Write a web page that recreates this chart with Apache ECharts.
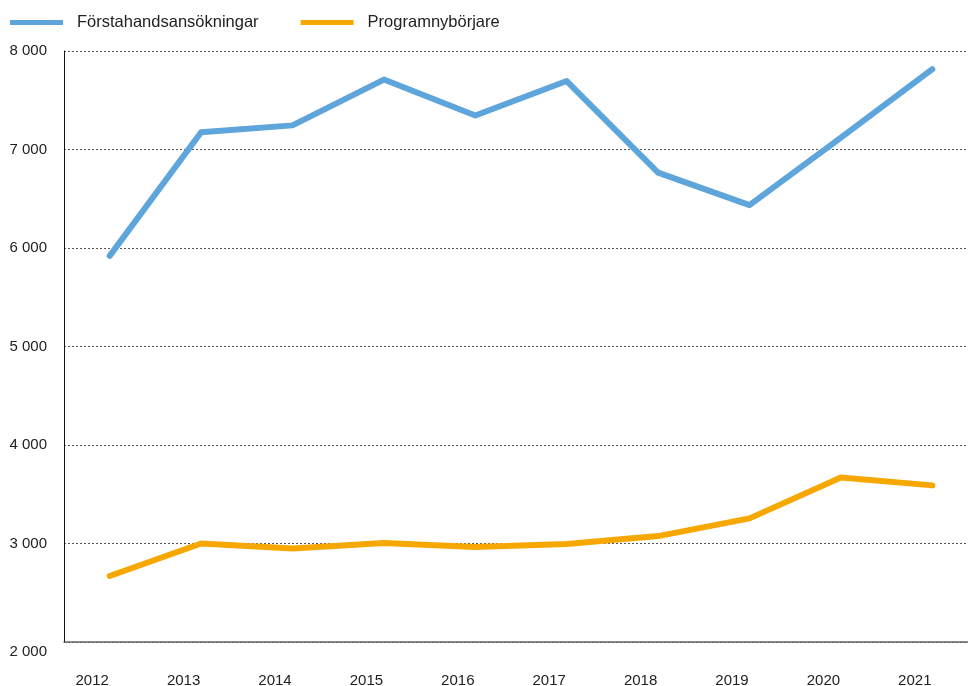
<!DOCTYPE html>
<html>
<head>
<meta charset="utf-8">
<script src="https://cdn.jsdelivr.net/npm/echarts@6/dist/echarts.min.js"></script>
<style>
  html, body { margin: 0; padding: 0; background: #fff; }
  #chart { width: 968px; height: 686px; }
</style>
</head>
<body>
<div id="chart"></div>
<script>
const years = ['2012', '2013', '2014', '2015', '2016', '2017', '2018', '2019', '2020', '2021']
const forstahand = [5920, 7175, 7245, 7710, 7345, 7695, 6765, 6435, 7120, 7815]
const nyborjare = [2670, 3000, 2950, 3005, 2965, 2995, 3075, 3255, 3670, 3590]
const seriesNames = ['Förstahandsansökningar', 'Programnybörjare']
const colors = ['#5DA5DA', '#F7A800']

const fmt = v => String(v).replace(/\B(?=(\d{3})+(?!\d))/g, ' ')

const chart = echarts.init(document.getElementById('chart'))

const lineSeries = (name, data, color) => ({
  name: name,
  type: 'line',
  data: data,
  symbol: 'none',
  color: color,
  lineStyle: { width: 6, color: color, cap: 'round', join: 'round' }
})

chart.setOption({
  animation: false,
  textStyle: { fontFamily: 'Liberation Sans, Arial, sans-serif' },
  legend: {
    left: 10,
    top: 14,
    padding: 0,
    icon: 'rect',
    itemWidth: 53,
    itemHeight: 5,
    itemGap: 42,
    textStyle: { fontSize: 16.5, color: '#222', padding: [0, 0, 0, 9] },
    data: seriesNames
  },
  // the plot runs a little past the right edge of the picture
  grid: { left: 64, right: -10, top: 51, bottom: 44, outerBoundsMode: 'none' },
  xAxis: {
    type: 'category',
    data: years,
    boundaryGap: true,
    axisLine: { lineStyle: { color: '#666', width: 1.5 } },
    axisTick: { show: false },
    axisLabel: { fontSize: 15, color: '#222', margin: 31, padding: [0, 35, 0, 0] }
  },
  yAxis: {
    type: 'value',
    min: 2000,
    max: 8000,
    interval: 1000,
    axisLine: { show: true, lineStyle: { color: '#111', width: 1 } },
    axisTick: { show: false },
    splitLine: { lineStyle: { color: '#555', type: [2, 2], width: 1 } },
    axisLabel: {
      fontSize: 15,
      color: '#222',
      margin: 17,
      formatter: v => v === 2000 ? '{low|' + fmt(v) + '}' : fmt(v),
      rich: { low: { fontSize: 15, color: '#222', padding: [20, 0, 0, 0] } }
    }
  },
  series: [
    lineSeries(seriesNames[0], forstahand, colors[0]),
    lineSeries(seriesNames[1], nyborjare, colors[1])
  ]
})
</script>
</body>
</html>
